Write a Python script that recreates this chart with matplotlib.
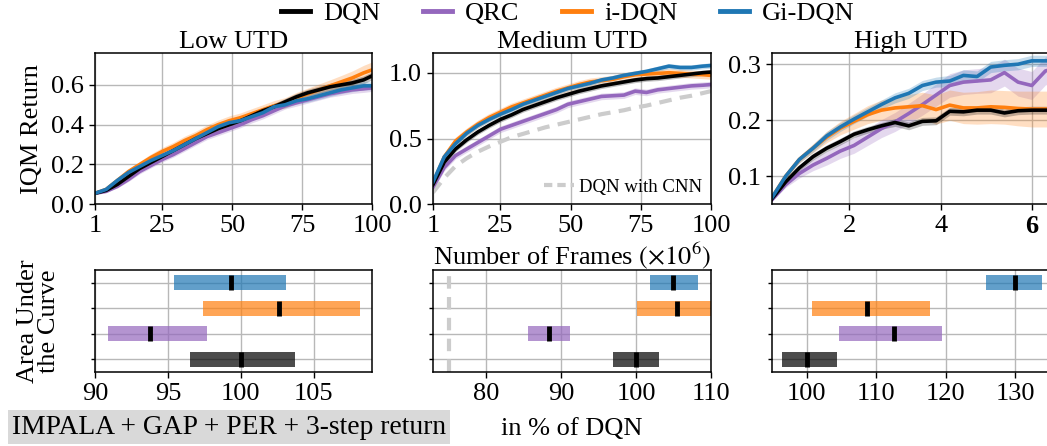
import matplotlib
matplotlib.use("Agg")
import matplotlib.pyplot as plt
from matplotlib.lines import Line2D

plt.rcParams["font.family"] = ["Liberation Serif", "DejaVu Serif"]
plt.rcParams["mathtext.fontset"] = "stix"
plt.rcParams["font.size"] = 19

# ---------------- learning curves ----------------
METHODS = ["DQN", "QRC", "i-DQN", "Gi-DQN"]
COLORS = ["#000000", "#9467bd", "#ff7f0e", "#1f77b4"]

FRAMES = [1, 5, 9, 13, 17, 21, 25, 29, 33, 37, 41, 45, 49, 53, 57, 61, 65,
          69, 73, 77, 81, 85, 89, 93, 97, 100]

LOW_DQN = [0.055, 0.07, 0.10, 0.14, 0.18, 0.21, 0.24, 0.27, 0.30, 0.33, 0.355,
           0.38, 0.40, 0.42, 0.445, 0.47, 0.49, 0.515, 0.54, 0.56, 0.575, 0.59,
           0.60, 0.61, 0.625, 0.645]
LOW_QRC = [0.055, 0.065, 0.09, 0.125, 0.165, 0.195, 0.225, 0.25, 0.28, 0.31,
           0.34, 0.36, 0.38, 0.40, 0.425, 0.445, 0.47, 0.495, 0.51, 0.525, 0.54,
           0.555, 0.565, 0.575, 0.58, 0.585]
LOW_IDQN = [0.055, 0.075, 0.12, 0.165, 0.20, 0.235, 0.265, 0.29, 0.32, 0.345,
            0.375, 0.40, 0.42, 0.435, 0.455, 0.475, 0.495, 0.51, 0.535, 0.555,
            0.575, 0.595, 0.615, 0.635, 0.66, 0.675]
LOW_GIDQN = [0.055, 0.075, 0.12, 0.16, 0.19, 0.22, 0.245, 0.27, 0.30, 0.33,
             0.36, 0.39, 0.41, 0.42, 0.44, 0.46, 0.49, 0.50, 0.52, 0.53, 0.545,
             0.56, 0.575, 0.585, 0.595, 0.595]
LOW_SPREAD_DQN = [0.004, 0.006, 0.008, 0.01, 0.012, 0.012, 0.013, 0.013,
                  0.014, 0.014, 0.015, 0.015, 0.015, 0.016, 0.016, 0.016,
                  0.017, 0.017, 0.017, 0.018, 0.018, 0.018, 0.019, 0.019,
                  0.02, 0.02]
LOW_SPREAD_QRC = [0.004, 0.006, 0.008, 0.01, 0.012, 0.012, 0.013, 0.013,
                  0.014, 0.014, 0.015, 0.015, 0.015, 0.015, 0.016, 0.016,
                  0.016, 0.016, 0.017, 0.017, 0.017, 0.017, 0.018, 0.018,
                  0.018, 0.018]
LOW_SPREAD_IDQN = [0.004, 0.007, 0.01, 0.013, 0.016, 0.018, 0.02, 0.021,
                   0.022, 0.022, 0.023, 0.023, 0.024, 0.024, 0.025, 0.025,
                   0.026, 0.026, 0.027, 0.028, 0.029, 0.03, 0.032, 0.035,
                   0.038, 0.04]
LOW_SPREAD_GIDQN = [0.004, 0.006, 0.008, 0.01, 0.012, 0.012, 0.013, 0.013,
                    0.014, 0.014, 0.014, 0.015, 0.015, 0.015, 0.016, 0.016,
                    0.016, 0.016, 0.017, 0.017, 0.018, 0.018, 0.019, 0.019,
                    0.02, 0.02]

MED_DQN = [0.15, 0.32, 0.42, 0.49, 0.55, 0.60, 0.645, 0.68, 0.72, 0.75, 0.78,
           0.81, 0.835, 0.86, 0.88, 0.90, 0.915, 0.93, 0.945, 0.955, 0.96,
           0.97, 0.98, 0.99, 1.0, 1.005]
MED_QRC = [0.13, 0.28, 0.37, 0.42, 0.47, 0.52, 0.57, 0.60, 0.63, 0.66, 0.69,
           0.72, 0.76, 0.78, 0.80, 0.82, 0.825, 0.83, 0.86, 0.85, 0.87, 0.88,
           0.89, 0.90, 0.905, 0.91]
MED_IDQN = [0.16, 0.36, 0.48, 0.55, 0.61, 0.66, 0.70, 0.74, 0.77, 0.80, 0.83,
            0.86, 0.885, 0.91, 0.93, 0.94, 0.95, 0.97, 0.985, 0.99, 0.995,
            1.00, 0.995, 0.99, 0.985, 0.98]
MED_GIDQN = [0.17, 0.36, 0.46, 0.54, 0.60, 0.645, 0.685, 0.72, 0.76, 0.79,
             0.82, 0.85, 0.88, 0.90, 0.92, 0.945, 0.96, 0.98, 0.995, 1.01,
             1.03, 1.05, 1.04, 1.04, 1.05, 1.055]
MED_CNN = [0.09, 0.20, 0.29, 0.35, 0.40, 0.44, 0.475, 0.51, 0.535, 0.56,
           0.585, 0.605, 0.625, 0.645, 0.665, 0.685, 0.70, 0.715, 0.735, 0.75,
           0.77, 0.79, 0.81, 0.825, 0.845, 0.86]
MED_SPREAD = [0.02, 0.025, 0.03, 0.02]

HIGH_FRAMES = [0.3, 0.6, 0.9, 1.2, 1.5, 1.8, 2.1, 2.4, 2.7, 3.0, 3.3, 3.6,
               3.9, 4.2, 4.5, 4.8, 5.1, 5.4, 5.7, 6.0, 6.3, 6.4]
HIGH_DQN = [0.06, 0.09, 0.115, 0.135, 0.15, 0.162, 0.175, 0.183, 0.19, 0.196,
            0.19, 0.198, 0.199, 0.216, 0.215, 0.218, 0.218, 0.213, 0.217,
            0.218, 0.218, 0.218]
HIGH_QRC = [0.058, 0.085, 0.105, 0.12, 0.132, 0.145, 0.155, 0.17, 0.185,
            0.197, 0.212, 0.228, 0.245, 0.262, 0.268, 0.27, 0.272, 0.285,
            0.268, 0.262, 0.288, 0.29]
HIGH_IDQN = [0.062, 0.10, 0.13, 0.15, 0.17, 0.186, 0.198, 0.21, 0.218, 0.222,
             0.224, 0.226, 0.219, 0.227, 0.222, 0.222, 0.224, 0.223, 0.221,
             0.22, 0.22, 0.22]
HIGH_GIDQN = [0.062, 0.10, 0.13, 0.15, 0.172, 0.188, 0.202, 0.215, 0.228,
              0.24, 0.248, 0.262, 0.268, 0.27, 0.28, 0.278, 0.295, 0.298, 0.30,
              0.306, 0.306, 0.306]
HIGH_SPREAD_DQN = [0.002, 0.004, 0.005, 0.006, 0.006, 0.006, 0.006, 0.006,
                   0.006, 0.007, 0.007, 0.007, 0.007, 0.007, 0.007, 0.007,
                   0.007, 0.007, 0.007, 0.007, 0.007, 0.007]
HIGH_SPREAD_QRC = [0.002, 0.005, 0.008, 0.01, 0.012, 0.013, 0.014, 0.015,
                   0.016, 0.017, 0.018, 0.019, 0.02, 0.021, 0.022, 0.022,
                   0.023, 0.024, 0.025, 0.025, 0.025, 0.025]
HIGH_SPREAD_IDQN = [0.002, 0.004, 0.006, 0.008, 0.01, 0.012, 0.014, 0.016,
                    0.018, 0.02, 0.022, 0.024, 0.026, 0.027, 0.028, 0.029,
                    0.03, 0.03, 0.031, 0.032, 0.032, 0.032]
HIGH_SPREAD_GIDQN = [0.002, 0.004, 0.006, 0.007, 0.008, 0.008, 0.008, 0.008,
                     0.008, 0.009, 0.009, 0.009, 0.009, 0.01, 0.01, 0.01, 0.01,
                     0.01, 0.01, 0.01, 0.01, 0.01]

# ---------------- area under the curve (% of DQN) ----------------
# rows drawn bottom to top: DQN, QRC, i-DQN, Gi-DQN
AUC_LOW_LO = [96.5, 90.9, 97.4, 95.4]
AUC_LOW_MED = [100.0, 93.8, 102.6, 99.3]
AUC_LOW_HI = [103.7, 97.7, 108.2, 103.1]
AUC_MED_LO = [96.9, 85.6, 100.1, 101.8]
AUC_MED_MED = [100.0, 88.4, 105.5, 104.9]
AUC_MED_HI = [103.0, 91.2, 110.5, 108.2]
AUC_MED_CNN = 75.0
AUC_HIGH_LO = [96.5, 104.7, 100.8, 125.8]
AUC_HIGH_MED = [100.0, 112.5, 108.7, 130.0]
AUC_HIGH_HI = [104.3, 119.4, 117.8, 133.9]

W, H = 1047, 446
fig = plt.figure(figsize=(W / 100, H / 100), dpi=100)


def px_axes(x0, y0, x1, y1):
    return fig.add_axes([x0 / W, 1 - y1 / H, (x1 - x0) / W, (y1 - y0) / H])


GRID = dict(color="#b8b8b8", linewidth=1.0)


def style(ax):
    ax.grid(True, **GRID)
    ax.set_axisbelow(True)
    for s in ax.spines.values():
        s.set_linewidth(1.1)
    ax.tick_params(labelsize=19, width=1.0, length=4, pad=4)


ax_low = px_axes(95, 53, 372, 204.3)
ax_med = px_axes(433, 53, 711, 204.3)
ax_high = px_axes(772, 53, 1050, 204.3)

curve_sets = [
    (ax_low, FRAMES, [LOW_DQN, LOW_QRC, LOW_IDQN, LOW_GIDQN],
     [LOW_SPREAD_DQN, LOW_SPREAD_QRC, LOW_SPREAD_IDQN, LOW_SPREAD_GIDQN]),
    (ax_med, FRAMES, [MED_DQN, MED_QRC, MED_IDQN, MED_GIDQN],
     [[s] * len(FRAMES) for s in MED_SPREAD]),
    (ax_high, HIGH_FRAMES, [HIGH_DQN, HIGH_QRC, HIGH_IDQN, HIGH_GIDQN],
     [HIGH_SPREAD_DQN, HIGH_SPREAD_QRC, HIGH_SPREAD_IDQN, HIGH_SPREAD_GIDQN]),
]

draw_order = [1, 2, 0, 3]
for ax, xs, series, spreads in curve_sets:
    style(ax)
    for i in draw_order:
        ys, sp = series[i], spreads[i]
        lo = [y - s for y, s in zip(ys, sp)]
        hi = [y + s for y, s in zip(ys, sp)]
        ax.fill_between(xs, lo, hi, color=COLORS[i], alpha=0.25, linewidth=0)
        ax.plot(xs, ys, color=COLORS[i], linewidth=2.6)

ax_med.plot(FRAMES, MED_CNN, color="#cccccc", linewidth=3, linestyle=(0, (3, 2)),
            zorder=1)
ax_med.legend(handles=[Line2D([], [], color="#cccccc", linewidth=3,
                              linestyle=(0, (2, 1.2)))],
              labels=["DQN with CNN"], loc="lower right", fontsize=13.5,
              frameon=False, handlelength=1.6, handletextpad=0.3,
              borderaxespad=0.05)

ax_low.set_xlim(1, 100)
ax_low.set_ylim(0, 0.76)
ax_low.set_xticks([1, 25, 50, 75, 100])
ax_low.set_yticks([0.0, 0.2, 0.4, 0.6])
ax_low.set_yticklabels(["0.0", "0.2", "0.4", "0.6"])

ax_med.set_xlim(1, 100)
ax_med.set_ylim(0, 1.15)
ax_med.set_xticks([1, 25, 50, 75, 100])
ax_med.set_yticks([0.0, 0.5, 1.0])
ax_med.set_yticklabels(["0.0", "0.5", "1.0"])

ax_high.set_xlim(0.3, 6.4)
ax_high.set_ylim(0.05, 0.32)
ax_high.set_xticks([2, 4, 6])
ax_high.set_xticklabels(["2", "4", "6"])
ax_high.get_xticklabels()[-1].set_fontweight("bold")
ax_high.set_yticks([0.1, 0.2, 0.3])
ax_high.set_yticklabels(["0.1", "0.2", "0.3"])

ax_low.set_title("Low UTD", fontsize=19, pad=3)
ax_med.set_title("Medium UTD", fontsize=19, pad=3)
ax_high.set_title("High UTD", fontsize=19, pad=3)
ax_low.set_ylabel("IQM Return", fontsize=19, labelpad=6)
ax_med.set_xlabel(r"Number of Frames $(\times 10^6)$", fontsize=19, labelpad=2)

# ---------------- AUC interval panels ----------------
bx_low = px_axes(95, 270, 372, 372)
bx_med = px_axes(433, 270, 711, 372)
bx_high = px_axes(772, 270, 1050, 372)

auc_sets = [
    (bx_low, AUC_LOW_LO, AUC_LOW_MED, AUC_LOW_HI, (90, 109), [90, 95, 100, 105]),
    (bx_med, AUC_MED_LO, AUC_MED_MED, AUC_MED_HI, (72.9, 110), [80, 90, 100, 110]),
    (bx_high, AUC_HIGH_LO, AUC_HIGH_MED, AUC_HIGH_HI, (95, 135), [100, 110, 120, 130]),
]
rows = [0, 1, 2, 3]
bar_h = 0.6
for ax, lo, med, hi, lim, ticks in auc_sets:
    style(ax)
    for r, i in zip(rows, range(4)):
        ax.barh(r, hi[i] - lo[i], left=lo[i], height=bar_h, color=COLORS[i],
                alpha=0.7, linewidth=0, zorder=2)
        ax.plot([med[i], med[i]], [r - bar_h / 2, r + bar_h / 2], color="black",
                linewidth=3.5, solid_capstyle="butt", zorder=3)
    ax.set_xlim(*lim)
    ax.set_ylim(-0.5, 3.5)
    ax.set_yticks(rows)
    ax.set_yticklabels([])
    ax.tick_params(axis="y", length=3)
    ax.set_xticks(ticks)

bx_med.axvline(AUC_MED_CNN, color="#cccccc", linewidth=3, linestyle=(0, (3, 2)),
               zorder=1)
bx_low.set_ylabel("Area Under\nthe Curve", fontsize=19, labelpad=18,
                  linespacing=0.95)
bx_med.set_xlabel("in % of DQN", fontsize=19, labelpad=9)

fig.text(12 / W, 1 - 427 / H, "IMPALA + GAP + PER + 3-step return",
         fontsize=19.8, ha="left", va="center",
         bbox=dict(boxstyle="square,pad=0.15", facecolor="#d9d9d9",
                   edgecolor="none"))

handles = [Line2D([], [], color=c, linewidth=3.5) for c in COLORS]
fig.legend(handles, METHODS, loc="center", bbox_to_anchor=(568 / W, 1 - 13 / H),
           ncol=4, frameon=False, fontsize=19, handlelength=1.1,
           handletextpad=0.5, columnspacing=1.6)

fig.savefig("out.png", dpi=100)
